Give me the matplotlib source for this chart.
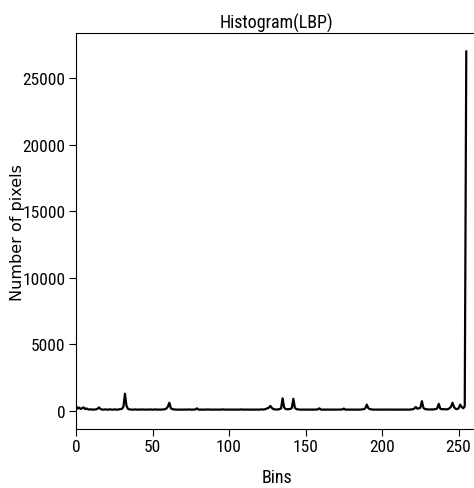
import numpy as np
import matplotlib
matplotlib.use("Agg")
import matplotlib.pyplot as plt

# LBP histogram counts for bins 0..255, 16 per row
counts = [
    380, 180, 260, 150, 210, 270, 140, 190, 120, 110, 130, 100, 110, 120, 160, 270,
    150, 110, 100, 120, 110, 100, 130, 110, 100, 120, 110, 100, 120, 140, 160, 320,
    1300, 380, 160, 120, 110, 100, 110, 120, 100, 110, 100, 120, 110, 100, 110, 100,
    120, 110, 100, 110, 120, 100, 110, 100, 110, 120, 130, 180, 320, 620, 200, 140,
    120, 110, 100, 110, 100, 110, 100, 110, 100, 110, 120, 100, 110, 100, 120, 200,
    110, 100, 110, 100, 110, 100, 120, 110, 100, 110, 100, 110, 100, 110, 100, 110,
    120, 110, 100, 110, 100, 110, 100, 110, 100, 110, 100, 110, 120, 100, 110, 100,
    110, 100, 110, 100, 110, 100, 110, 100, 110, 120, 110, 120, 150, 200, 250, 380,
    230, 140, 120, 110, 120, 140, 200, 950, 260, 150, 130, 140, 150, 220, 920, 240,
    140, 120, 110, 100, 110, 100, 110, 100, 110, 100, 110, 100, 110, 110, 120, 200,
    110, 100, 110, 100, 110, 100, 110, 100, 110, 100, 110, 100, 110, 110, 120, 180,
    110, 100, 110, 100, 110, 100, 110, 100, 110, 100, 110, 120, 140, 200, 480, 220,
    140, 120, 110, 100, 110, 100, 110, 100, 110, 100, 110, 100, 110, 100, 110, 100,
    110, 100, 110, 100, 110, 100, 110, 100, 110, 100, 110, 120, 130, 180, 300, 180,
    200, 250, 740, 230, 150, 130, 120, 110, 120, 110, 130, 140, 200, 540, 180, 130,
    140, 130, 120, 140, 200, 320, 620, 300, 170, 140, 200, 480, 300, 200, 350, 27000,
]
bins = np.arange(len(counts))

narrow = ["Liberation Sans Narrow", "Roboto Condensed", "DejaVu Sans Condensed",
          "Liberation Sans"]

fig = plt.figure(figsize=(4.74, 4.89), dpi=100)
ax = fig.add_axes([0.1603, 0.1207, 0.846, 0.8088])
ax.plot(bins, counts, color="black", lw=1.6)
ax.set_xlim(0, 262)
ax.set_ylim(-1350, 28350)
ax.set_xticks([0, 50, 100, 150, 200, 250])
ax.set_yticks([0, 5000, 10000, 15000, 20000, 25000])

for lab in ax.get_xticklabels() + ax.get_yticklabels():
    lab.set_family(narrow)
    lab.set_fontsize(12.5)
ax.tick_params(length=5, pad=2.5)

ax.set_title("Histogram(LBP)", family=narrow, fontsize=13, pad=4)
ax.set_xlabel("Bins", family=narrow, fontsize=13, labelpad=10)
ax.set_ylabel("Number of pixels", family="DejaVu Sans", fontsize=11.5)
ax.yaxis.set_label_coords(-0.128, 0.5)

fig.savefig("out.png", dpi=100)
